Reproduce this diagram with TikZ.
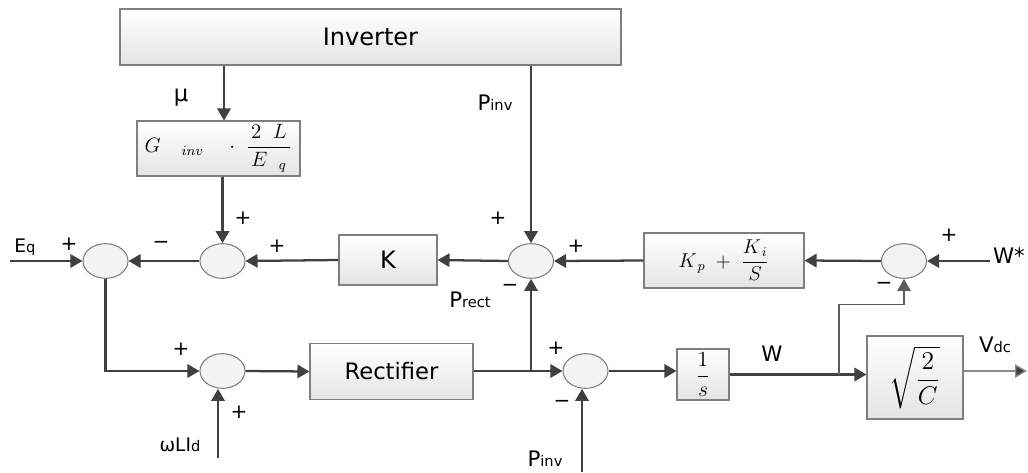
\documentclass[tikz,border=0pt]{standalone}
\usepackage{amsmath}
\usepackage{fontspec}
\setmainfont{DejaVu Sans}
\usetikzlibrary{arrows.meta,shapes.geometric}
\definecolor{linec}{HTML}{404040}
\definecolor{boxline}{HTML}{7F7F7F}
\definecolor{boxbot}{HTML}{E4E4E4}
\definecolor{sumfill}{HTML}{F3F3F3}
\definecolor{outc}{HTML}{8A8A8A}
\newcommand{\subsz}[1]{{\fontsize{11}{11}\selectfont #1}}
\begin{document}
\begin{tikzpicture}[x=0.75pt,y=-0.75pt,
  arr/.style={draw=linec, line width=1.7pt, -{Triangle[length=9pt,width=10pt]}},
  thinarr/.style={draw=linec!85, line width=0.9pt, -{Triangle[length=9pt,width=10pt]}},
  outarr/.style={draw=outc, line width=1pt, -{Triangle[length=9pt,width=10pt,fill=linec]}},
  blk/.style={draw=boxline, line width=0.8pt, top color=white, bottom color=boxbot, inner sep=0pt, align=center},
  sumj/.style={ellipse, draw=boxline, line width=0.8pt, fill=sumfill, minimum width=33.75pt, minimum height=26pt, inner sep=0pt},
  lbl/.style={font=\fontsize{16}{16}\selectfont, inner sep=0pt},
  slbl/.style={font=\fontsize{14}{14}\selectfont, inner sep=0pt},
  sgn/.style={font=\fontsize{15}{15}\selectfont, inner sep=0pt}]
\useasboundingbox (0,0) rectangle (1028,472);

% blocks
\node[blk, minimum width=375.75pt, minimum height=42pt, font=\fontsize{18}{18}\selectfont] (inv) at (370.5,37) {Inverter};
\node[blk, minimum width=122.25pt, minimum height=41.25pt, font=\fontsize{12}{14}\selectfont] (g) at (218.5,148.5) {\scalebox{1.3}{$G\quad{}_{inv}\quad\cdot\;\dfrac{\,2\;\;L\,}{E\;\;{}_{q}}$}};
\node[blk, minimum width=73.5pt, minimum height=37.5pt, font=\fontsize{18}{18}\selectfont] (k) at (388,260) {K};
\node[blk, minimum width=120pt, minimum height=41.25pt, font=\fontsize{12}{14}\selectfont] (pi) at (724,260.5) {\scalebox{1.25}{$K_{\,p}\;+\;\dfrac{K_{\,i}}{S}$}};
\node[blk, minimum width=122.25pt, minimum height=42pt, font=\fontsize{17}{17}\selectfont] (rect) at (391.5,371.5) {Rectifier};
\node[blk, minimum width=39pt, minimum height=38.25pt, font=\fontsize{12}{14}\selectfont] (int) at (703,374.5) {\scalebox{1.35}{$\dfrac{1}{s}$}};
\node[blk, minimum width=72pt, minimum height=62.25pt, font=\fontsize{12}{14}\selectfont] (sq) at (915,377.5) {\scalebox{1.6}{$\sqrt{\dfrac{2}{C}}$}};

% summing junctions
\node[sumj] (c1) at (105.5,261) {};
\node[sumj] (c2) at (222.5,261) {};
\node[sumj] (c3) at (531,261) {};
\node[sumj] (c4) at (904,261) {};
\node[sumj] (c5) at (222.5,371) {};
\node[sumj] (c6) at (585.5,371) {};

% free ends
\coordinate (eqin) at (10,261);
\coordinate (wst) at (990,261);
\coordinate (mux) at (224,0);
\coordinate (wl) at (218,458);
\coordinate (pb) at (582,472);
\coordinate (j2x) at (839,0);
\coordinate (vout) at (1027,371);

% connectors
\draw[arr] (eqin) -- (c1.west);
\draw[arr] (c2.west) -- (c1.east);
\draw[arr] (k.west) -- (c2.east);
\draw[arr] (c3.west) -- (k.east);
\draw[arr] (pi.west) -- (c3.east);
\draw[arr] (c4.west) -- (pi.east);
\draw[arr] (wst) -- (c4.east);
\draw[arr] (inv.south -| c3) -- (c3.north);
\draw[arr] (mux |- inv.south) -- (mux |- g.north);
\draw[arr] (g.south -| c2) -- (c2.north);
\draw[arr] (c1.south) |- (c5.west);
\draw[arr] (wl) -- (wl |- c5.south);
\draw[arr] (c5.east) -- (rect.west);
\draw[arr] (rect.east |- c6) -- (c6.west);
\coordinate (j1) at (c3 |- c6);
\draw[arr] (j1) -- (c3.south);
\draw[arr] (pb) -- (pb |- c6.south);
\draw[arr] (c6.east) -- (c6.east -| int.west);
\draw[arr] (int.east) -- (int.east -| sq.west);
\draw[thinarr] (j2x |- int.east) -- ++(0,-70) -| (c4.south);
\draw[outarr] (sq.east |- c6) -- (vout);

% labels
\node[font=\fontsize{17}{17}\selectfont, inner sep=0pt] (mu) at (181,98) {μ};
\node[lbl] (pinvt) at (495,103) {P\subsz{inv}};
\node[slbl] (eq) at (25,247) {E\subsz{q}};
\node[lbl] (prect) at (470,300) {P\subsz{rect}};
\node[slbl] (wlid) at (180,445) {ωLI\subsz{d}};
\node[lbl] (pinvb) at (545,459) {P\subsz{inv}};
\node[lbl] (wlab) at (772,354) {W};
\node[lbl] (wstar) at (1009,256) {W*};
\node[lbl] (vdc) at (995,345) {V\subsz{dc}};

% signs
\node[sgn] (s1) at (69,244) {+};
\node[sgn] (s2) at (161,245) {−};
\node[sgn] (s3) at (277,246) {+};
\node[sgn] (s4) at (243,218) {+};
\node[sgn] (s5) at (498,218) {+};
\node[sgn] (s6) at (576,246) {+};
\node[sgn] (s7) at (510,288) {−};
\node[sgn] (s8) at (949,235) {+};
\node[sgn] (s9) at (884,286) {−};
\node[sgn] (s10) at (181,349) {+};
\node[sgn] (s11) at (239,412) {+};
\node[sgn] (s12) at (556,348) {+};
\node[sgn] (s13) at (562,404) {−};
\end{tikzpicture}
\end{document}
